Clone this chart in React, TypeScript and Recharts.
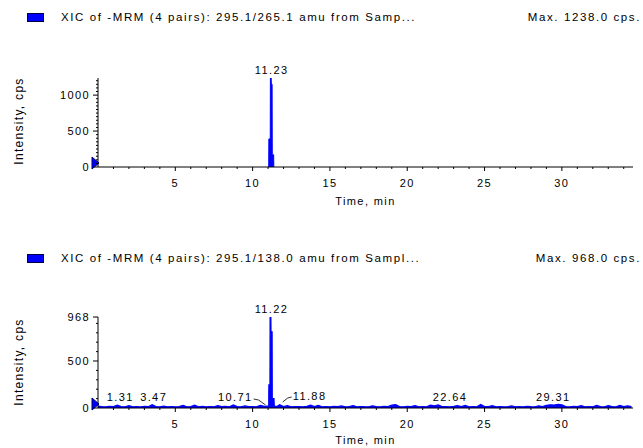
import React from 'react';
import { AreaChart, Area, XAxis, YAxis, ReferenceDot } from 'recharts';

// ---------- data ----------
const xTickValues = [1,2,3,4,5,6,7,8,9,10,11,12,13,14,15,16,17,18,19,20,21,22,23,24,25,26,27,28,29,30,31,32,33,34];
const xDomain: [number, number] = [0, 34.6];

const topYTicks = [0,50,100,150,200,250,300,350,400,450,500,550,600,650,700,750,800,850,900,950,1000,1050,1100,1150,1200];
const topYMajor = [0, 500, 1000];
const topMax = 1238;

const bottomYTicks = [0,100,200,300,400,500,600,700,800,900,968];
const bottomYMajor = [0, 500, 968];
const bottomMax = 968;

// top trace: [time (min), intensity (cps)]
const topTrace: [number, number][] = [
  [11.04, 0], [11.05, 390], [11.14, 390], [11.15, 1238], [11.2, 1238], [11.21, 1150],
  [11.26, 1150], [11.27, 170], [11.36, 170], [11.37, 0],
];

// bottom trace: [time (min), intensity (cps)]
const bottomTrace: [number, number][] = [
  [0.0, 20], [0.25, 15], [0.5, 12], [0.75, 18], [1.0, 14], [1.25, 30], [1.5, 16], [1.75, 12],
  [2.0, 25], [2.25, 13], [2.5, 15], [2.75, 11], [3.0, 17], [3.25, 14], [3.5, 35], [3.75, 15],
  [4.0, 12], [4.25, 20], [4.5, 13], [4.75, 16], [5.0, 12], [5.25, 14], [5.5, 28], [5.75, 13],
  [6.0, 15], [6.25, 30], [6.5, 12], [6.75, 17], [7.0, 13], [7.25, 15], [7.5, 12], [7.75, 26],
  [8.0, 14], [8.25, 18], [8.5, 13], [8.75, 32], [9.0, 15], [9.25, 12], [9.5, 22], [9.75, 14],
  [10.0, 16], [10.25, 13], [10.5, 28], [10.75, 18], [11.0, 20],
  [11.04, 20], [11.05, 245], [11.12, 245], [11.13, 968], [11.18, 968], [11.19, 810],
  [11.26, 810], [11.27, 100], [11.38, 100], [11.4, 20],
  [11.6, 18], [11.75, 35], [12.0, 15], [12.25, 25], [12.5, 13], [12.75, 16], [13.0, 14],
  [13.25, 12], [13.5, 18], [13.75, 30], [14.0, 14], [14.25, 28], [14.5, 13], [14.75, 15],
  [15.0, 12], [15.25, 17], [15.5, 14], [15.75, 22], [16.0, 13], [16.25, 15], [16.5, 26],
  [16.75, 12], [17.0, 16], [17.25, 14], [17.5, 13], [17.75, 24], [18.0, 15], [18.25, 12],
  [18.5, 17], [18.75, 14], [19.0, 30], [19.25, 35], [19.5, 15], [19.75, 13], [20.0, 18],
  [20.25, 14], [20.5, 26], [20.75, 13], [21.0, 16], [21.25, 12], [21.5, 30], [21.75, 24],
  [22.0, 32], [22.25, 15], [22.5, 14], [22.75, 13], [23.0, 18], [23.25, 25], [23.5, 14],
  [23.75, 27], [24.0, 13], [24.25, 16], [24.5, 12], [24.75, 38], [25.0, 15], [25.25, 14],
  [25.5, 24], [25.75, 13], [26.0, 16], [26.25, 12], [26.5, 14], [26.75, 22], [27.0, 13],
  [27.25, 15], [27.5, 12], [27.75, 17], [28.0, 14], [28.25, 13], [28.5, 24], [28.75, 15],
  [29.0, 28], [29.25, 34], [29.5, 32], [29.75, 40], [30.0, 35], [30.25, 15], [30.5, 13],
  [30.75, 18], [31.0, 14], [31.25, 25], [31.5, 13], [31.75, 16], [32.0, 12], [32.25, 27],
  [32.5, 14], [32.75, 13], [33.0, 26], [33.25, 15], [33.5, 12], [33.75, 28], [34.0, 14],
  [34.25, 24], [34.5, 15],
];

// peak annotations
const topPeakLabel = 11.23;
const bottomPeakLabel = 11.22;
const bottomMinorPeaks = [1.31, 3.47, 22.64, 29.31];
const leftLeaderPeak = 10.71;
const rightLeaderPeak = 11.88;

const topTitle = 'XIC of -MRM (4 pairs): 295.1/265.1 amu from Samp...';
const topMaxText = 'Max. 1238.0 cps.';
const bottomTitle = 'XIC of -MRM (4 pairs): 295.1/138.0 amu from Sampl...';
const bottomMaxText = 'Max. 968.0 cps.';

// ---------- styling ----------
const FONT = '"Liberation Sans", Arial, sans-serif';
const BLUE = '#0000ff';
const TXT = { fontFamily: FONT, fontSize: 11, letterSpacing: 1.4, fill: '#000' } as const;
const HEAD = { fontFamily: FONT, fontSize: 11.5, letterSpacing: 1.6, lineHeight: '16px', whiteSpace: 'nowrap', color: '#000' } as const;

const topData = topTrace.map(([t, v]) => ({ t, v }));
const bottomData = bottomTrace.map(([t, v]) => ({ t, v }));

const XTick = (props: any) => {
  const { x, y, payload } = props;
  const v = payload.value;
  const major = v % 5 === 0;
  return (
    <g>
      <line x1={x} x2={x} y1={y} y2={y + (major ? 4 : 2)} stroke="#000" strokeWidth={1} />
      {major && (
        <text x={x} y={y + 20} textAnchor="middle" {...TXT}>{v}</text>
      )}
    </g>
  );
};

const makeYTick = (majors: number[]) => (props: any) => {
  const { x, y, payload } = props;
  const v = payload.value;
  const major = majors.includes(v);
  return (
    <g>
      <line x1={x - (major ? 5 : 2)} x2={x} y1={y} y2={y} stroke="#000" strokeWidth={1} />
      {major && (
        <text x={x - 8} y={y + 4} textAnchor="end" {...TXT}>{v}</text>
      )}
    </g>
  );
};

const Triangle = (props: any) => {
  const { cx, cy } = props;
  return (
    <polygon
      points={`${cx - 6},${cy - 10} ${cx + 1},${cy - 4} ${cx - 6},${cy + 2}`}
      fill={BLUE}
      stroke="#000060"
      strokeWidth={1}
    />
  );
};

const topLabelShape = (text: string) => (props: any) => (
  <text x={props.cx} y={props.cy - 4} textAnchor="middle" {...TXT}>{text}</text>
);

const smallLabelShape = (text: string) => (props: any) => (
  <text x={props.cx + 2} y={props.cy - 7} textAnchor="middle" {...TXT}>{text}</text>
);

const leftLeaderShape = (text: string) => (props: any) => (
  <g>
    <text x={props.cx - 11} y={props.cy - 7} textAnchor="end" {...TXT}>{text}</text>
    <path d={`M${props.cx - 10},${props.cy - 9} L${props.cx - 5},${props.cy - 8} L${props.cx + 2},${props.cy - 3}`} stroke="#000" fill="none" strokeWidth={0.8} />
  </g>
);

const rightLeaderShape = (text: string) => (props: any) => (
  <g>
    <path d={`M${props.cx + 1},${props.cy - 6} L${props.cx + 6},${props.cy - 10} L${props.cx + 10},${props.cy - 11}`} stroke="#000" fill="none" strokeWidth={0.8} />
    <text x={props.cx + 11} y={props.cy - 8} textAnchor="start" {...TXT}>{text}</text>
  </g>
);

const Legend = ({ top, title, maxText }: { top: number; title: string; maxText: string }) => (
  <>
    <div style={{ position: 'absolute', left: 27, top: top - 4, width: 15, height: 7, background: BLUE, border: '1px solid #000040' }} />
    <div style={{ position: 'absolute', left: 61, top: top - 8, ...HEAD }}>{title}</div>
    <div style={{ position: 'absolute', right: 2, top: top - 8, ...HEAD }}>{maxText}</div>
  </>
);

const YTitle = ({ cy }: { cy: number }) => (
  <div style={{ position: 'absolute', left: 19, top: cy, transform: 'translate(-50%, -50%) rotate(-90deg)', fontFamily: FONT, fontSize: 12, letterSpacing: 1.3, whiteSpace: 'nowrap', color: '#000' }}>Intensity, cps</div>
);

export default function App() {
  return (
    <div style={{ position: 'absolute', left: 0, top: 0, width: 643, height: 448, background: '#fff', overflow: 'hidden' }}>
      <Legend top={17} title={topTitle} maxText={topMaxText} />
      <Legend top={258} title={bottomTitle} maxText={bottomMaxText} />
      <YTitle cy={121} />
      <YTitle cy={362} />

      <div style={{ position: 'absolute', left: 0, top: 0 }}>
        <AreaChart width={643} height={210} data={topData} margin={{ top: 78, right: 10, left: 0, bottom: 0 }}>
          <XAxis dataKey="t" type="number" domain={xDomain} ticks={xTickValues} interval={0}
            tick={<XTick />} tickLine={false} tickSize={0} tickMargin={0} height={43}
            axisLine={{ stroke: '#000' }} allowDataOverflow
            label={{ value: 'Time, min', position: 'insideBottom', offset: 5, ...TXT }} />
          <YAxis type="number" domain={[0, topMax]} ticks={topYTicks} interval={0}
            tick={makeYTick(topYMajor)} tickLine={false} tickSize={0} tickMargin={0} width={98}
            axisLine={{ stroke: '#000' }} allowDataOverflow />
          <Area dataKey="v" type="linear" stroke={BLUE} strokeWidth={1} fill={BLUE} fillOpacity={1} isAnimationActive={false} dot={false} activeDot={false} />
          <ReferenceDot x={0} y={0} r={6} ifOverflow="visible" shape={Triangle} />
          <ReferenceDot x={topPeakLabel} y={topMax} r={1} ifOverflow="visible" shape={topLabelShape(String(topPeakLabel))} />
        </AreaChart>
      </div>

      <div style={{ position: 'absolute', left: 0, top: 230 }}>
        <AreaChart width={643} height={218} data={bottomData} margin={{ top: 87, right: 10, left: 0, bottom: 0 }}>
          <XAxis dataKey="t" type="number" domain={xDomain} ticks={xTickValues} interval={0}
            tick={<XTick />} tickLine={false} tickSize={0} tickMargin={0} height={40}
            axisLine={{ stroke: '#000' }} allowDataOverflow
            label={{ value: 'Time, min', position: 'insideBottom', offset: 4, ...TXT }} />
          <YAxis type="number" domain={[0, bottomMax]} ticks={bottomYTicks} interval={0}
            tick={makeYTick(bottomYMajor)} tickLine={false} tickSize={0} tickMargin={0} width={98}
            axisLine={{ stroke: '#000' }} allowDataOverflow />
          <Area dataKey="v" type="linear" stroke={BLUE} strokeWidth={1.2} fill={BLUE} fillOpacity={1} isAnimationActive={false} dot={false} activeDot={false} />
          <ReferenceDot x={0} y={0} r={6} ifOverflow="visible" shape={Triangle} />
          <ReferenceDot x={bottomPeakLabel} y={bottomMax} r={1} ifOverflow="visible" shape={topLabelShape(String(bottomPeakLabel))} />
          {bottomMinorPeaks.map((p) => (
            <ReferenceDot key={p} x={p} y={0} r={1} ifOverflow="visible" shape={smallLabelShape(p.toFixed(2))} />
          ))}
          <ReferenceDot x={leftLeaderPeak} y={0} r={1} ifOverflow="visible" shape={leftLeaderShape(leftLeaderPeak.toFixed(2))} />
          <ReferenceDot x={rightLeaderPeak} y={0} r={1} ifOverflow="visible" shape={rightLeaderShape(rightLeaderPeak.toFixed(2))} />
        </AreaChart>
      </div>
    </div>
  );
}
